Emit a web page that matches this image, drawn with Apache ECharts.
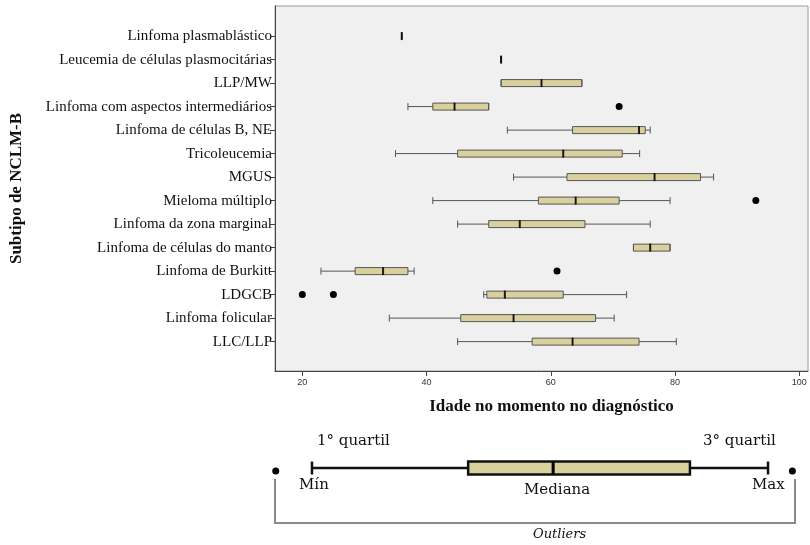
<!DOCTYPE html>
<html>
<head>
<meta charset="utf-8">
<script src="https://cdn.jsdelivr.net/npm/echarts@6/dist/echarts.min.js"></script>
<style>
  html, body { margin: 0; padding: 0; background: #fff; }
  #chart { width: 810px; height: 545px; }
</style>
</head>
<body>
<div id="chart"></div>
<script>
// subtipos, de cima para baixo
var categories = [
  'Linfoma plasmablástico',
  'Leucemia de células plasmocitárias',
  'LLP/MW',
  'Linfoma com aspectos intermediários',
  'Linfoma de células B, NE',
  'Tricoleucemia',
  'MGUS',
  'Mieloma múltiplo',
  'Linfoma da zona marginal',
  'Linfoma de células do manto',
  'Linfoma de Burkitt',
  'LDGCB',
  'Linfoma folicular',
  'LLC/LLP'
];
var mins    = [36, 52, 52,   37,   53,   35,   54,   41, 45,   73.3, 23,   49.2, 34,   45];
var q1s     = [36, 52, 52,   41,   63.5, 45,   62.6, 58, 50,   73.3, 28.5, 49.7, 45.5, 57];
var medians = [36, 52, 58.5, 44.5, 74.2, 62,   76.7, 64, 55,   76,   33,   52.6, 54,   63.5];
var q3s     = [36, 52, 65,   50,   75.2, 71.5, 84.1, 71, 65.5, 79.2, 37,   62,   67.2, 74.2];
var maxs    = [36, 52, 65,   50,   76,   74.3, 86.2, 79.2, 76, 79.2, 38,   72.2, 70.2, 80.2];
// [indice do subtipo, idade]
var outliers = [[3, 71], [7, 93], [10, 61], [11, 20], [11, 25]];
var xTicks = [20, 40, 60, 80, 100];

// caixa explicativa (legenda)
var legendStats = [22, 47, 60.6, 82.5, 95];
var legendOutliers = [16.2, 98.9];

var serif = '"Liberation Serif", "Times New Roman", serif';
var legendFont = '"DejaVu Serif", serif';

var rowIdx = categories.map(function (c, i) { return i; });
var boxData = categories.map(function (c, i) {
  return [i, mins[i], q1s[i], medians[i], q3s[i], maxs[i]];
});

var chart = echarts.init(document.getElementById('chart'));
chart.setOption({
  animation: false,
  backgroundColor: '#fff',
  grid: [
    { left: 272, top: 6, width: 536, height: 365, show: true, backgroundColor: '#f0f0f0', borderColor: '#9a9a9a', borderWidth: 1 },
    { left: 272, top: 458, width: 536, height: 20 }
  ],
  xAxis: [
    {
      type: 'value', gridIndex: 0, min: 15.6, max: 101.4,
      splitLine: { show: false },
      axisLine: { onZero: false, lineStyle: { color: '#444' } },
      axisTick: { customValues: xTicks, length: 5, lineStyle: { color: '#444' } },
      axisLabel: { customValues: xTicks, fontFamily: '"Liberation Sans", Arial, sans-serif', fontSize: 9, color: '#333', margin: 7 },
      name: 'Idade no momento no diagnóstico',
      nameLocation: 'middle', nameGap: 27,
      nameTextStyle: { fontFamily: serif, fontWeight: 'bold', fontSize: 17, color: '#111', padding: [0, 0, 0, 20] }
    },
    { type: 'value', gridIndex: 1, min: 15.6, max: 101.4, show: false }
  ],
  yAxis: [
    {
      type: 'value', gridIndex: 0, inverse: true, min: -1.28, max: 14.25,
      splitLine: { show: false },
      axisLine: { show: true, onZero: false, lineStyle: { color: '#444' } },
      axisTick: { show: true, customValues: rowIdx, length: 5, lineStyle: { color: '#444' } },
      axisLabel: {
        customValues: rowIdx, fontFamily: serif, fontSize: 15, color: '#111', margin: 3,
        formatter: function (v) { return categories[v]; }
      },
      name: 'Subtipo de NCLM-B',
      nameLocation: 'middle', nameGap: 250,
      nameTextStyle: { fontFamily: serif, fontWeight: 'bold', fontSize: 17, color: '#111' }
    },
    { type: 'value', gridIndex: 1, min: -1, max: 1, show: false }
  ],
  series: [
    {
      type: 'boxplot', xAxisIndex: 0, yAxisIndex: 0, layout: 'vertical',
      boxWidth: [7, 7],
      itemStyle: { color: '#d9d19d', borderColor: '#555', borderWidth: 1 },
      data: boxData
    },
    {
      type: 'scatter', xAxisIndex: 0, yAxisIndex: 0,
      symbol: 'rect', symbolSize: [2, 8],
      itemStyle: { color: '#000' },
      data: medians.map(function (m, i) { return [m, i]; })
    },
    {
      type: 'scatter', xAxisIndex: 0, yAxisIndex: 0,
      symbol: 'circle', symbolSize: 7,
      itemStyle: { color: '#000', opacity: 1 },
      data: outliers.map(function (o) { return [o[1], o[0]]; })
    },
    // legenda explicativa
    {
      type: 'boxplot', xAxisIndex: 1, yAxisIndex: 1, layout: 'vertical',
      boxWidth: [13, 13],
      itemStyle: { color: '#d9d19d', borderColor: '#111', borderWidth: 2.5 },
      data: [[0].concat(legendStats)]
    },
    {
      type: 'scatter', xAxisIndex: 1, yAxisIndex: 1,
      symbol: 'rect', symbolSize: [3, 13],
      itemStyle: { color: '#000' },
      data: [[legendStats[2], 0]]
    },
    {
      type: 'scatter', xAxisIndex: 1, yAxisIndex: 1,
      symbol: 'circle', symbolSize: 7,
      itemStyle: { color: '#000', opacity: 1 },
      data: legendOutliers.map(function (v) { return [v, -0.3]; })
    }
  ],
  graphic: [
    { type: 'text', left: 317, top: 434, style: { text: '1° quartil', font: '15px ' + legendFont, fill: '#111' } },
    { type: 'text', left: 703, top: 434, style: { text: '3° quartil', font: '15px ' + legendFont, fill: '#111' } },
    { type: 'text', left: 299, top: 478, style: { text: 'Mín', font: '15px ' + legendFont, fill: '#111' } },
    { type: 'text', left: 524, top: 483, style: { text: 'Mediana', font: '15px ' + legendFont, fill: '#111' } },
    { type: 'text', left: 752, top: 478, style: { text: 'Max', font: '15px ' + legendFont, fill: '#111' } },
    { type: 'text', left: 533, top: 528, style: { text: 'Outliers', font: 'italic 13px ' + legendFont, fill: '#111' } },
    {
      type: 'polyline',
      shape: { points: [[275, 479], [275, 523], [795, 523], [795, 479]] },
      style: { stroke: '#8a8a8a', lineWidth: 2, fill: null }
    }
  ]
});
</script>
</body>
</html>
